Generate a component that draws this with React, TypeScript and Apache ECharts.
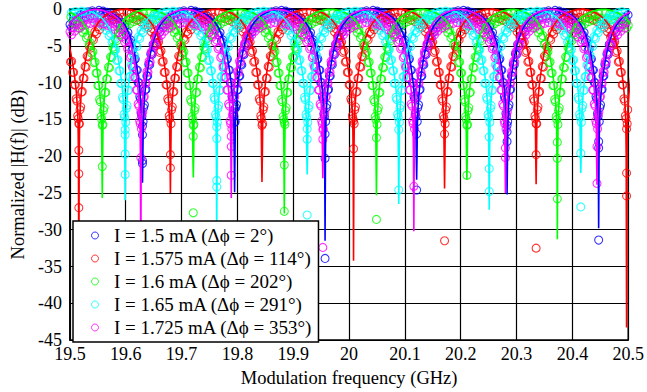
import React, { useEffect, useRef } from 'react';
import * as echarts from 'echarts';

// ---------- data ----------
const xTickLabels = ['19.5', '19.6', '19.7', '19.8', '19.9', '20', '20.1', '20.2', '20.3', '20.4', '20.5'];
const yTickLabels = ['0', '-5', '-10', '-15', '-20', '-25', '-30', '-35', '-40', '-45'];

const seriesNames = [
  'I = 1.5 mA (Δϕ = 2°)',
  'I = 1.575 mA (Δϕ = 114°)',
  'I = 1.6 mA (Δϕ = 202°)',
  'I = 1.65 mA (Δϕ = 291°)',
  'I = 1.725 mA (Δϕ = 353°)',
];

// notch frequencies (GHz) and simulated notch depths (dB)
const blueNotchGHz = [19.466, 19.630, 19.795, 19.957, 20.121, 20.283, 20.447];
const blueNotchDb = [-30, -23.6, -24.9, -31.5, -23.2, -25.2, -29.8];
const redNotchGHz = [19.516, 19.680, 19.844, 20.008, 20.171, 20.335, 20.497];
const redNotchDb = [-38, -25, -23.5, -34.2, -24.4, -23.8, -43.3];
const greenNotchGHz = [19.558, 19.721, 19.884, 20.049, 20.211, 20.373, 20.537];
const greenNotchDb = [-25.7, -22.9, -27.8, -25.3, -23.2, -31.3, -30];
const cyanNotchGHz = [19.436, 19.599, 19.763, 19.925, 20.089, 20.251, 20.415, 20.579];
const cyanNotchDb = [-30, -26, -31, -22.5, -26.5, -27.3, -22.3, -30];
const magentaNotchGHz = [19.466, 19.627, 19.789, 19.953, 20.116, 20.280, 20.444];
const magentaNotchDb = [-30, -36, -25.7, -23, -30.2, -25, -23.9];

// measured circles found deep inside each notch (dB)
const blueNotchCircles = [[], [-21, -20.6, -17.1, -15.9], [-15.4, -13.6], [-33.9, -20.3, -17], [-24.6, -17], [-18, -16.7, -15.8], [-31.4, -18.9, -18]];
const redNotchCircles = [[-27, -22.4, -19.2, -15.6], [-21.6, -19.8], [-15.8], [-19, -15.2], [-31.5, -17], [-32.5, -19.8, -15.6], [-25.4, -22.3, -16.3]];
const greenNotchCircles = [[-21.4, -15.8], [-27.7, -17.3, -15.8], [-27.5, -21.2, -15.4], [-28.6, -17.5], [-22.6, -15.8], [-25.8, -20.3, -18.1], []];
const cyanNotchCircles = [[], [-22.5, -19.7, -17.1, -16.4], [-24.2, -23.3, -17.6, -16], [-28, -17.7, -16.3], [-24.6, -16.4], [-24.8, -21.7, -17.4], [-26.9, -19.6], []];
const magentaNotchCircles = [[], [-20.2, -14], [-22.6, -18.7, -17.3], [-32.4, -17.7, -16.4], [-24.1], [-20.2, -18.9], [-23.7, -18.7]];

// measured circle level offset at the peaks (dB)
const circleShiftDb = [0, -0.3, -0.4, -0.1, -1.0];

// shape of a notch: offset from notch (GHz) -> dB
const lineOffsetGHz = [0, 0.0007, 0.0014, 0.0026, 0.0044, 0.0062, 0.0088, 0.0115, 0.0141, 0.0176, 0.0212, 0.0247, 0.0300, 0.0353, 0.0423, 0.0494, 0.0564, 0.0635, 0.0705, 0.0776];
const lineProfileDb = [0, -20, -15.5, -13.3, -11.4, -10, -8.5, -7.2, -6.1, -4.9, -4.0, -3.3, -2.4, -1.8, -1.2, -0.8, -0.5, -0.3, -0.15, -0.05];

// measured circles around a notch: offset (GHz) -> band top / band bottom (dB)
const circleOffsetGHz = [0.0011, 0.0021, 0.0034, 0.0048, 0.0062, 0.0078, 0.0093, 0.0111, 0.0129, 0.0148, 0.0168, 0.0189, 0.0212, 0.0236, 0.0261, 0.0287, 0.0314, 0.0342, 0.0370, 0.0400, 0.0430, 0.0462, 0.0494, 0.0527, 0.0561, 0.0596, 0.0631, 0.0667, 0.0704, 0.0741, 0.0780];
const circleTopDb = [-14.6, -13.4, -12.2, -11.0, -10.0, -9.1, -8.3, -7.5, -6.8, -6.1, -5.4, -4.8, -4.2, -3.7, -3.2, -2.8, -2.4, -2.1, -1.8, -1.55, -1.3, -1.1, -0.95, -0.8, -0.65, -0.55, -0.45, -0.38, -0.3, -0.25, -0.2];
const circleBottomDb = [-15.3, -14.2, -13.0, -11.9, -10.9, -10.0, -9.1, -8.3, -7.6, -6.9, -6.2, -5.6, -5.0, -4.4, -3.9, -3.5, -3.1, -2.8, -2.5, -2.2, -2.0, -1.8, -1.6, -1.45, -1.3, -1.2, -1.1, -1.0, -0.95, -0.9, -0.85];

// ---------- styling ----------
const COLORS = ['#0000ff', '#ff0000', '#00ff00', '#00ffff', '#ff00ff'];
const FONT = "'Liberation Serif', 'Times New Roman', serif";

const notchSets = [
  { x: blueNotchGHz, db: blueNotchDb, c: blueNotchCircles },
  { x: redNotchGHz, db: redNotchDb, c: redNotchCircles },
  { x: greenNotchGHz, db: greenNotchDb, c: greenNotchCircles },
  { x: cyanNotchGHz, db: cyanNotchDb, c: cyanNotchCircles },
  { x: magentaNotchGHz, db: magentaNotchDb, c: magentaNotchCircles },
];

function buildLine(xs: number[], dbs: number[]) {
  const pts: number[][] = [];
  xs.forEach((x0, i) => {
    for (let k = lineOffsetGHz.length - 1; k >= 1; k--) pts.push([x0 - lineOffsetGHz[k], lineProfileDb[k]]);
    pts.push([x0, dbs[i]]);
    for (let k = 1; k < lineOffsetGHz.length; k++) pts.push([x0 + lineOffsetGHz[k], lineProfileDb[k]]);
  });
  return pts;
}

function buildCircles(xs: number[], extra: number[][], shift: number) {
  const pts: number[][] = [];
  xs.forEach((x0, i) => {
    circleOffsetGHz.forEach((d, k) => {
      const a = k % 2 === 0 ? circleTopDb[k] : circleBottomDb[k];
      const b = k % 2 === 0 ? circleBottomDb[k] : circleTopDb[k];
      pts.push([x0 - d, a + shift]);
      pts.push([x0 + d, b + shift]);
    });
    (extra[i] || []).forEach((v) => pts.push([x0, v]));
  });
  return pts.filter((p) => p[0] >= 19.5 && p[0] <= 20.5);
}

export default function App() {
  const ref = useRef<HTMLDivElement>(null);
  useEffect(() => {
    document.body.style.margin = '0';
    if (!ref.current) return;
    const chart = echarts.init(ref.current, undefined, { renderer: 'svg' });

    const scatterSeries = notchSets.map((s, i) => ({
      name: seriesNames[i],
      type: 'scatter',
      symbol: 'circle',
      symbolSize: 8,
      silent: true,
      itemStyle: { color: 'rgba(0,0,0,0)', borderColor: COLORS[i], borderWidth: 1.1 },
      data: buildCircles(s.x, s.c, circleShiftDb[i]),
      z: 2,
    }));
    const lineSeries = notchSets.map((s, i) => ({
      name: 'sim' + i,
      type: 'line',
      showSymbol: false,
      symbol: 'none',
      silent: true,
      lineStyle: { color: COLORS[i], width: 1.6 },
      data: buildLine(s.x, s.db),
      z: 3,
    }));

    chart.setOption({
      animation: false,
      textStyle: { fontFamily: FONT },
      grid: { left: 64, right: 16, top: 9, bottom: 43, show: true, borderColor: '#000', borderWidth: 1.5 },
      legend: {
        left: 73,
        top: 221,
        orient: 'vertical',
        backgroundColor: '#fff',
        borderColor: '#000',
        borderWidth: 1.5,
        padding: [5, 6, 5, 18],
        itemGap: 4,
        itemWidth: 28,
        itemHeight: 7,
        textStyle: { fontFamily: FONT, fontSize: 19, color: '#000', lineHeight: 19 },
        data: seriesNames.map((n, i) => ({
          name: n,
          icon: 'circle',
          itemStyle: { color: 'rgba(0,0,0,0)', borderColor: COLORS[i], borderWidth: 1 },
        })),
        selectedMode: false,
      },
      xAxis: {
        type: 'value',
        min: 19.5,
        max: 20.5,
        interval: 0.1,
        name: 'Modulation frequency (GHz)',
        nameLocation: 'middle',
        nameGap: 24,
        nameTextStyle: { fontFamily: FONT, fontSize: 18.5, color: '#000' },
        axisLine: { show: true, lineStyle: { color: '#000', width: 1.5 } },
        axisTick: { show: false },
        axisLabel: {
          fontFamily: FONT,
          fontSize: 18,
          color: '#000',
          margin: 5,
          formatter: (v: number) => xTickLabels[Math.round((v - 19.5) * 10)] ?? '',
        },
        splitLine: { show: true, lineStyle: { color: '#000', width: 1.2 } },
      },
      yAxis: {
        type: 'value',
        min: -45,
        max: 0,
        interval: 5,
        name: 'Normalized |H(f)| (dB)',
        nameLocation: 'middle',
        nameGap: 38,
        nameTextStyle: { fontFamily: FONT, fontSize: 18.5, color: '#000' },
        axisLine: { show: true, lineStyle: { color: '#000', width: 1.5 } },
        axisTick: { show: false },
        axisLabel: {
          fontFamily: FONT,
          fontSize: 18,
          color: '#000',
          margin: 8,
          formatter: (v: number) => yTickLabels[Math.round(-v / 5)] ?? '',
        },
        splitLine: { show: true, lineStyle: { color: '#000', width: 1.2 } },
      },
      series: [...scatterSeries, ...lineSeries],
    });
    return () => chart.dispose();
  }, []);
  return <div ref={ref} style={{ width: 647, height: 392 }} />;
}
